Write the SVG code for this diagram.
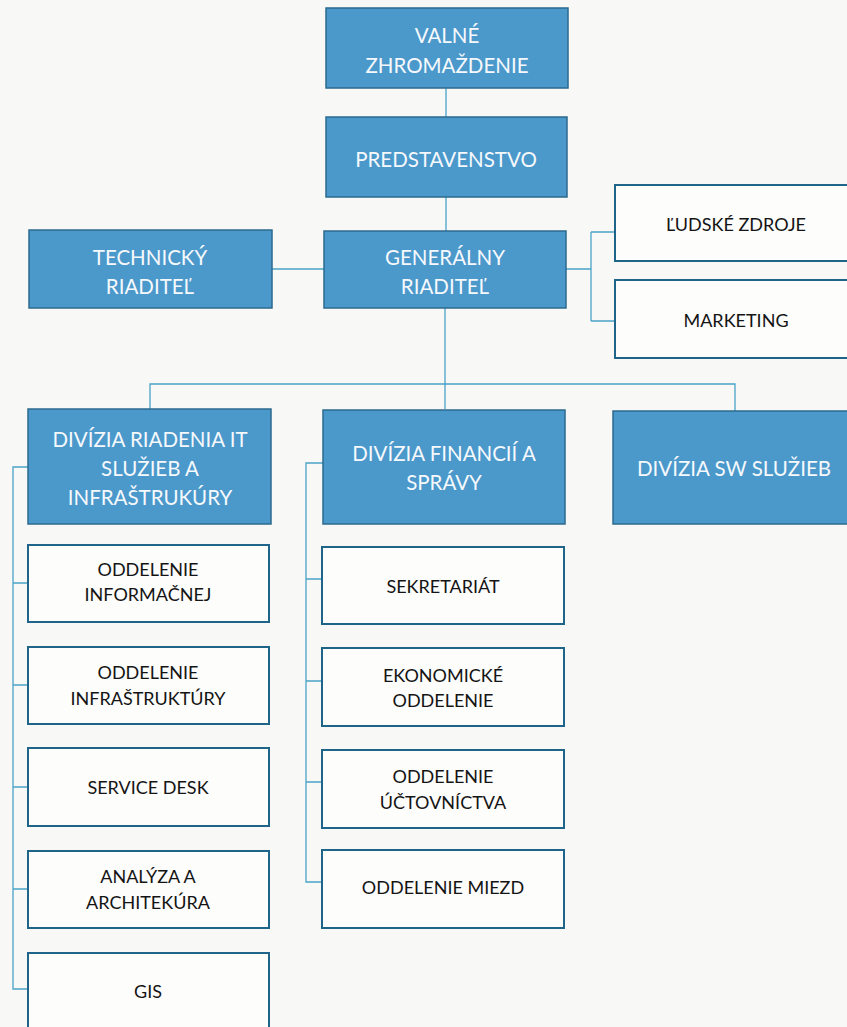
<svg xmlns="http://www.w3.org/2000/svg" width="847" height="1027" viewBox="0 0 847 1027">
<style>
.bg{fill:#f8f8f6}
.b{fill:#4b98cb;stroke:#2d6a8e;stroke-width:1.5}
.w{fill:#fdfdfc;stroke:#1f6589;stroke-width:2}
.c{fill:none;stroke:#4aa3c9;stroke-width:1.3}
text{font-family:Lato,"Open Sans","Liberation Sans",sans-serif;text-anchor:middle}
.tb{fill:#f6f9fc;font-size:20.5px}
.tw{fill:#141414;font-size:18px}
</style>
<rect class="bg" x="0" y="0" width="847" height="1027"/>
<g id="connectors">
<path class="c" d="M446,88 V117"/>
<path class="c" d="M446,197 V231"/>
<path class="c" d="M272,269 H324"/>
<path class="c" d="M566,269 H591 M591,232 V321 M591,232 H615 M591,321 H615"/>
<path class="c" d="M445,308 V409"/>
<path class="c" d="M150,409 V384 H735 V411"/>
<path class="c" d="M28,467 H13 V989 H28 M13,583 H28 M13,685 H28 M13,787 H28 M13,889 H28"/>
<path class="c" d="M323,463 H306 V882 H322 M306,579 H322 M306,681 H322 M306,782 H322"/>
</g>
<g id="valne-zhromazdenie">
<rect class="b" x="326" y="8" width="242" height="80"/>
<text class="tb" x="447" y="43">VALNÉ</text>
<text class="tb" x="447" y="73">ZHROMAŽDENIE</text>
</g>
<g id="predstavenstvo">
<rect class="b" x="326" y="117" width="241" height="80"/>
<text class="tb" x="446" y="167">PREDSTAVENSTVO</text>
</g>
<g id="technicky-riaditel">
<rect class="b" x="29" y="230" width="243" height="78"/>
<text class="tb" x="150" y="265">TECHNICKÝ</text>
<text class="tb" x="150" y="294">RIADITEĽ</text>
</g>
<g id="generalny-riaditel">
<rect class="b" x="324" y="231" width="242" height="77"/>
<text class="tb" x="445" y="265">GENERÁLNY</text>
<text class="tb" x="445" y="294">RIADITEĽ</text>
</g>
<g id="ludske-zdroje">
<rect class="w" x="615" y="185" width="240" height="76"/>
<text class="tw" x="736" y="231">ĽUDSKÉ ZDROJE</text>
</g>
<g id="marketing">
<rect class="w" x="615" y="280" width="240" height="78"/>
<text class="tw" x="736" y="327">MARKETING</text>
</g>
<g id="divizia-it">
<rect class="b" x="28" y="409" width="243" height="115"/>
<text class="tb" x="150" y="447">DIVÍZIA RIADENIA IT</text>
<text class="tb" x="150" y="476">SLUŽIEB A</text>
<text class="tb" x="150" y="505">INFRAŠTRUKÚRY</text>
</g>
<g id="divizia-financii">
<rect class="b" x="323" y="410" width="242" height="114"/>
<text class="tb" x="444" y="461">DIVÍZIA FINANCIÍ A</text>
<text class="tb" x="444" y="490">SPRÁVY</text>
</g>
<g id="divizia-sw">
<rect class="b" x="613" y="411" width="242" height="113"/>
<text class="tb" x="734" y="476">DIVÍZIA SW SLUŽIEB</text>
</g>
<g id="oddelenie-informacnej">
<rect class="w" x="28" y="545" width="241" height="77"/>
<text class="tw" x="148" y="576">ODDELENIE</text>
<text class="tw" x="148" y="601">INFORMAČNEJ</text>
</g>
<g id="oddelenie-infrastruktury">
<rect class="w" x="28" y="647" width="241" height="77"/>
<text class="tw" x="148" y="679">ODDELENIE</text>
<text class="tw" x="148" y="705">INFRAŠTRUKTÚRY</text>
</g>
<g id="service-desk">
<rect class="w" x="28" y="748" width="241" height="78"/>
<text class="tw" x="148" y="794">SERVICE DESK</text>
</g>
<g id="analyza-architektura">
<rect class="w" x="28" y="851" width="241" height="77"/>
<text class="tw" x="148" y="883">ANALÝZA A</text>
<text class="tw" x="148" y="909">ARCHITEKÚRA</text>
</g>
<g id="gis">
<rect class="w" x="28" y="953" width="241" height="90"/>
<text class="tw" x="148" y="998">GIS</text>
</g>
<g id="sekretariat">
<rect class="w" x="322" y="547" width="242" height="77"/>
<text class="tw" x="443" y="593">SEKRETARIÁT</text>
</g>
<g id="ekonomicke-oddelenie">
<rect class="w" x="322" y="648" width="242" height="78"/>
<text class="tw" x="443" y="682">EKONOMICKÉ</text>
<text class="tw" x="443" y="707">ODDELENIE</text>
</g>
<g id="oddelenie-uctovnictva">
<rect class="w" x="322" y="750" width="242" height="78"/>
<text class="tw" x="443" y="783">ODDELENIE</text>
<text class="tw" x="443" y="809">ÚČTOVNÍCTVA</text>
</g>
<g id="oddelenie-miezd">
<rect class="w" x="322" y="850" width="242" height="78"/>
<text class="tw" x="443" y="894">ODDELENIE MIEZD</text>
</g>
</svg>
